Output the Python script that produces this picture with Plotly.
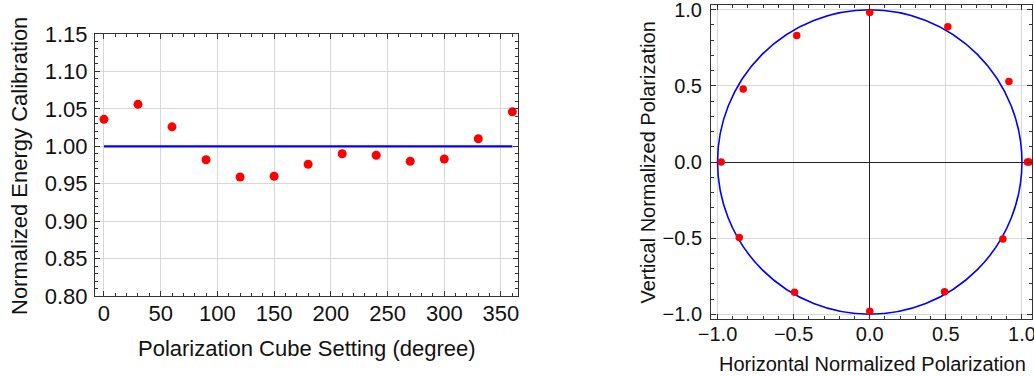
import numpy as np
import plotly.graph_objects as go

# Data
settings_deg = [0, 30, 60, 90, 120, 150, 180, 210, 240, 270, 300, 330, 360]
energy_cal = [1.036, 1.056, 1.026, 0.982, 0.959, 0.960, 0.976, 0.990, 0.988, 0.980, 0.983, 1.010, 1.046]
ref_x = [0, 360]
ref_y = [1.0, 1.0]

left_yticks = [0.80, 0.85, 0.90, 0.95, 1.00, 1.05, 1.10, 1.15]
left_xticks = [0, 50, 100, 150, 200, 250, 300, 350]
right_ticks = [-1.0, -0.5, 0.0, 0.5, 1.0]

# polar transform of the same data
theta = np.deg2rad(settings_deg)
r = np.array(energy_cal)
hpol = r * np.cos(theta)
vpol = r * np.sin(theta)

FONT = "Liberation Sans, Arial, sans-serif"
FRAME = "#333333"
GRID = "#d8d8d8"
FSL = 22   # left panel text size
FSR = 20   # right panel text size

fig = go.Figure()
fig.add_trace(go.Scatter(x=ref_x, y=ref_y, mode="lines",
                         line=dict(color="#0000ff", width=2.2),
                         xaxis="x", yaxis="y", showlegend=False))
fig.add_trace(go.Scatter(x=settings_deg, y=energy_cal, mode="markers",
                         marker=dict(color="#ff0000", size=9),
                         xaxis="x", yaxis="y", showlegend=False))
fig.add_trace(go.Scatter(x=hpol, y=vpol, mode="markers",
                         marker=dict(color="#ff0000", size=7.5),
                         xaxis="x2", yaxis="y2", showlegend=False))

axis_common = dict(showline=True, linecolor=FRAME, linewidth=1, mirror="allticks",
                   ticks="inside", ticklen=5, tickcolor=FRAME, tickwidth=1,
                   showgrid=True, gridcolor=GRID, gridwidth=1, automargin=False,
                   ticklabeloverflow="allow")

def tf(size):
    return dict(family=FONT, size=size, color="#111111")

fig.update_layout(
    width=1034, height=376,
    margin=dict(l=0, r=0, t=0, b=0, autoexpand=False),
    paper_bgcolor="white", plot_bgcolor="white",
    font=dict(family=FONT, size=FSL, color="#111111"),
    xaxis=dict(domain=[95/1034, 518/1034], range=[-7.9, 365], anchor="y",
               tickvals=left_xticks, zeroline=False, ticklabelstandoff=-2, tickfont=tf(FSL),
               minor=dict(dtick=10, tick0=0, ticks="inside", ticklen=3, tickcolor=FRAME, showgrid=False),
               **axis_common),
    yaxis=dict(domain=[1-296/376, 1-34/376], range=[0.80, 1.15], anchor="x",
               tickvals=left_yticks, tickformat=".2f", zeroline=False, ticklabelstandoff=2, tickfont=tf(FSL),
               minor=dict(dtick=0.01, tick0=0.8, ticks="inside", ticklen=3, tickcolor=FRAME, showgrid=False),
               **axis_common),
    xaxis2=dict(domain=[711/1034, 1032/1034], range=[-1.043, 1.066], anchor="y2",
                tickvals=right_ticks, tickformat=".1f", zeroline=True, zerolinecolor="#222222",
                zerolinewidth=1.2, ticklabelstandoff=-3, tickfont=tf(FSR),
                minor=dict(dtick=0.1, tick0=0, ticks="inside", ticklen=3, tickcolor=FRAME, showgrid=False),
                **axis_common),
    yaxis2=dict(domain=[1-319.3/376, 1-4.7/376], range=[-1.033, 1.033], anchor="x2",
                tickvals=right_ticks, tickformat=".1f", zeroline=True, zerolinecolor="#222222",
                zerolinewidth=1.2, ticklabelstandoff=4, tickfont=tf(FSR),
                minor=dict(dtick=0.1, tick0=0, ticks="inside", ticklen=3, tickcolor=FRAME, showgrid=False),
                **axis_common),
    shapes=[dict(type="circle", xref="x2", yref="y2", x0=-1, y0=-1, x1=1, y1=1,
                 line=dict(color="#0000ff", width=1.6), layer="between")],
    annotations=[
        dict(text="Normalized Energy Calibration", x=20/1034, y=1-166/376, xref="paper", yref="paper",
             textangle=-90, showarrow=False, xanchor="center", yanchor="middle", font=tf(FSL)),
        dict(text="Polarization Cube Setting (degree)", x=307/1034, y=1-348/376, xref="paper", yref="paper",
             showarrow=False, xanchor="center", yanchor="middle", font=tf(FSL)),
        dict(text="Vertical Normalized Polarization", x=647.5/1034, y=1-163/376, xref="paper", yref="paper",
             textangle=-90, showarrow=False, xanchor="center", yanchor="middle", font=tf(FSR)),
        dict(text="Horizontal Normalized Polarization", x=872/1034, y=1-364/376, xref="paper", yref="paper",
             showarrow=False, xanchor="center", yanchor="middle", font=tf(FSR)),
    ],
)

fig.write_html("out.html", config={"displayModeBar": False},
               post_script="document.body.style.margin='0';document.body.style.overflow='hidden';")
